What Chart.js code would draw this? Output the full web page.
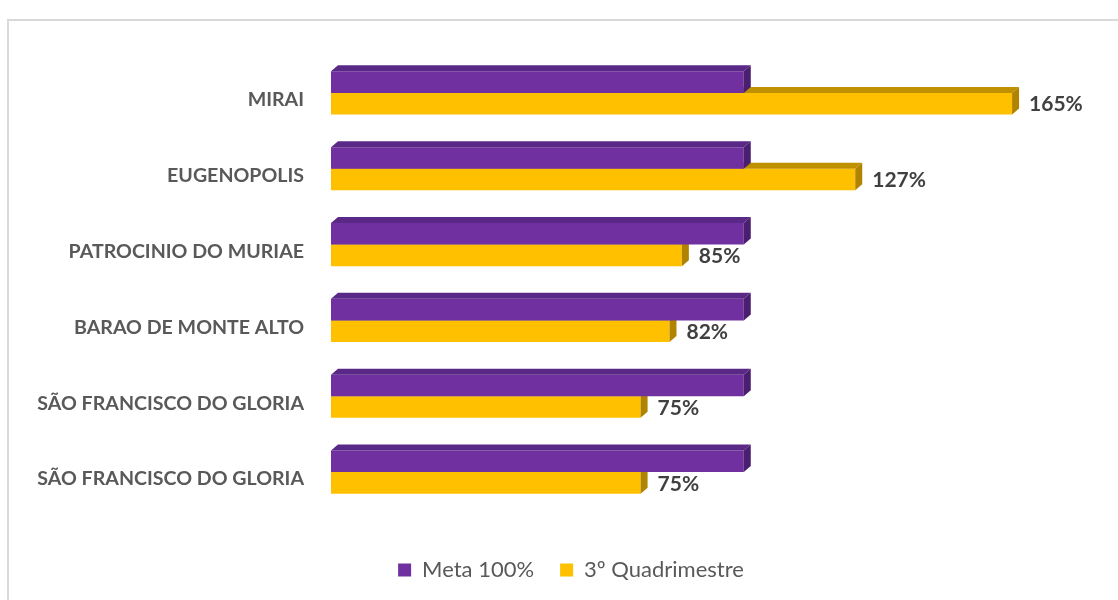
<!DOCTYPE html>
<html>
    <head>
        <title>Meta x 3º Quadrimestre</title>
        <script src="https://cdn.jsdelivr.net/npm/chart.js"></script>
        <style>
            body { margin: 0; background: #fff; }
            #frame {
                position: absolute; left: 7px; top: 19px; width: 1111px; height: 581px;
                border-left: 2px solid #d9d9d9; border-top: 2px solid #d9d9d9;
            }
            #wrap { position: absolute; left: 0; top: 0; width: 1118px; height: 600px; }
        </style>
        <script type="text/javascript">
            // chart data
            const municipios = ["MIRAI", "EUGENOPOLIS", "PATROCINIO DO MURIAE",
                "BARAO DE MONTE ALTO", "SÃO FRANCISCO DO GLORIA", "SÃO FRANCISCO DO GLORIA"];
            const meta = [100, 100, 100, 100, 100, 100];
            const quadrimestre = [165, 127, 85, 82, 75, 75];
            const serieNames = ["Meta 100%", "3º Quadrimestre"];

            const PURPLE = '#7030A0';
            const YELLOW = '#FFC000';
            const DX = 7, DY = 6;

            // draws the top and side faces so the bars look 3D
            const bars3d = {
                id: 'bars3d',
                afterDatasetDraw(chart, args) {
                    const ctx = chart.ctx;
                    const top = args.index === 0 ? '#5A2887' : '#BF9000';
                    const side = args.index === 0 ? '#4A1F70' : '#B08400';
                    args.meta.data.forEach(function (bar) {
                        const p = bar.getProps(['x', 'y', 'base', 'height'], true);
                        const t = p.y - p.height / 2, b = p.y + p.height / 2;
                        ctx.save();
                        ctx.fillStyle = top;
                        ctx.beginPath();
                        ctx.moveTo(p.base, t);
                        ctx.lineTo(p.base + DX, t - DY);
                        ctx.lineTo(p.x + DX, t - DY);
                        ctx.lineTo(p.x, t);
                        ctx.closePath();
                        ctx.fill();
                        ctx.fillStyle = side;
                        ctx.beginPath();
                        ctx.moveTo(p.x, t);
                        ctx.lineTo(p.x + DX, t - DY);
                        ctx.lineTo(p.x + DX, b - DY);
                        ctx.lineTo(p.x, b);
                        ctx.closePath();
                        ctx.fill();
                        ctx.restore();
                    });
                }
            };

            // percentage labels after the yellow bars
            const valueLabels = {
                id: 'valueLabels',
                afterDatasetsDraw(chart) {
                    const ctx = chart.ctx;
                    const m = chart.getDatasetMeta(1);
                    ctx.save();
                    ctx.font = 'bold 21px Lato';
                    ctx.fillStyle = '#404040';
                    ctx.textBaseline = 'middle';
                    m.data.forEach(function (bar, i) {
                        ctx.fillText(quadrimestre[i] + '%', bar.x + DX + 10, bar.y + 1);
                    });
                    ctx.restore();
                }
            };

            // the legend sits a bit right of the canvas centre
            const legendShift = {
                id: 'legendShift',
                afterLayout(chart) {
                    chart.legend.left += 34;
                    chart.legend.right += 34;
                }
            };

            document.addEventListener('DOMContentLoaded', function () {
                const ctx = document.getElementById('myChart').getContext('2d');
                new Chart(ctx, {
                    type: 'bar',
                    data: {
                        labels: municipios,
                        datasets: [{
                            label: serieNames[0],
                            data: meta,
                            backgroundColor: PURPLE
                        }, {
                            label: serieNames[1],
                            data: quadrimestre,
                            backgroundColor: YELLOW
                        }]
                    },
                    options: {
                        indexAxis: 'y',
                        responsive: false,
                        animation: false,
                        categoryPercentage: 0.57,
                        barPercentage: 1.0,
                        layout: { padding: { top: 55, right: 44, bottom: 9, left: 0 } },
                        scales: {
                            x: {
                                min: 0, max: 180,
                                grid: { display: false },
                                border: { display: false },
                                ticks: { display: false },
                                afterFit: function (s) { s.height = 23; }
                            },
                            y: {
                                grid: { display: false, drawTicks: false },
                                border: { display: false },
                                ticks: {
                                    color: '#595959',
                                    font: { family: 'Lato', size: 19.6, weight: 'bold' },
                                    padding: 27,
                                    labelOffset: 7
                                },
                                afterFit: function (s) { s.width = 331; }
                            }
                        },
                        plugins: {
                            tooltip: { enabled: false },
                            legend: {
                                position: 'bottom',
                                labels: {
                                    color: '#595959',
                                    font: { family: 'Lato', size: 22 },
                                    boxWidth: 13,
                                    boxHeight: 13,
                                    padding: 26
                                }
                            }
                        }
                    },
                    plugins: [bars3d, valueLabels, legendShift]
                });
            });
        </script>
    </head>
    <body>
        <div id="frame"></div>
        <div id="wrap"><canvas id="myChart" width="1118" height="600"></canvas></div>
    </body>
</html>
